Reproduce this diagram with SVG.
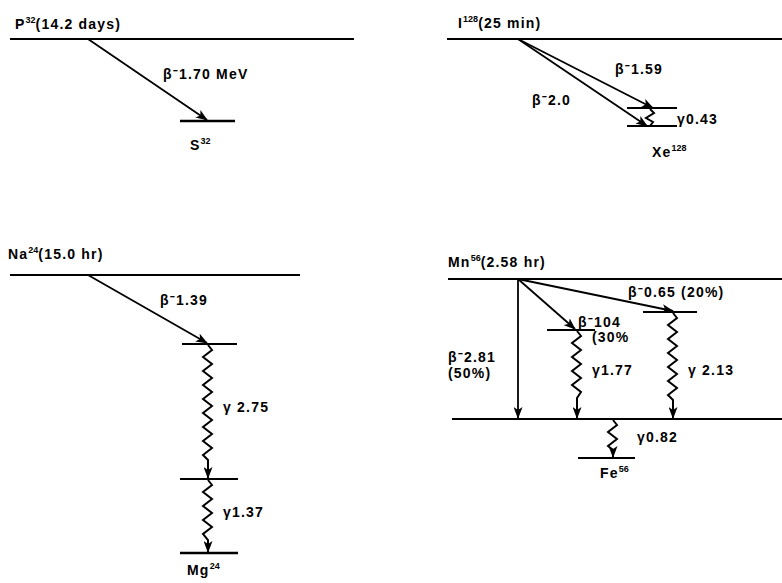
<svg xmlns="http://www.w3.org/2000/svg" width="782" height="583" viewBox="0 0 782 583">
<defs>
<style>
.lvl{stroke:#000;stroke-width:2.2;fill:none}
.arr{stroke:#000;stroke-width:1.8;fill:none;marker-end:url(#ah)}
.sq{stroke:#000;stroke-width:2;fill:none;stroke-linejoin:miter}
.t{font-family:"Liberation Sans",Arial,sans-serif;font-weight:bold;font-size:14px;letter-spacing:1.2px;fill:#000}
.sup{font-size:9px;letter-spacing:0}
</style>
<marker id="ah" markerWidth="12" markerHeight="9" refX="11" refY="4.5" orient="auto" markerUnits="userSpaceOnUse">
<path d="M0,0 L12,4.5 L0,9 L3,4.5 Z" fill="#000"/>
</marker>
</defs>
<rect width="782" height="583" fill="#fff"/>

<g id="p32">
<line class="lvl" x1="10" y1="39" x2="354" y2="39"/>
<line class="lvl" x1="180" y1="121" x2="235" y2="121" style="stroke-width:2.6"/>
<text class="t" x="15" y="29">P<tspan class="sup" dy="-6">32</tspan><tspan dy="6">(14.2 days)</tspan></text>
<text class="t" x="163" y="79">β⁻1.70 MeV</text>
<text class="t" x="190" y="150">S<tspan class="sup" dy="-6">32</tspan></text>
</g>

<g id="i128">
<line class="lvl" x1="447" y1="39" x2="782" y2="39"/>
<line class="lvl" x1="627" y1="108" x2="677" y2="108"/>
<line class="lvl" x1="627" y1="126" x2="677" y2="126"/>
<text class="t" x="458" y="28">I<tspan class="sup" dy="-6">128</tspan><tspan dy="6">(25 min)</tspan></text>
<text class="t" x="615" y="74">β⁻1.59</text>
<text class="t" x="532" y="105">β⁻2.0</text>
<text class="t" x="677" y="124">γ0.43</text>
<text class="t" x="652" y="157">Xe<tspan class="sup" dy="-6">128</tspan></text>
</g>

<g id="na24">
<line class="lvl" x1="10" y1="275" x2="300" y2="275"/>
<line class="lvl" x1="182" y1="344" x2="237" y2="344"/>
<line class="lvl" x1="180" y1="479" x2="238" y2="479"/>
<line class="lvl" x1="180" y1="553" x2="238" y2="553" style="stroke-width:2.6"/>
<text class="t" x="8" y="259">Na<tspan class="sup" dy="-6">24</tspan><tspan dy="6">(15.0 hr)</tspan></text>
<text class="t" x="160" y="305">β⁻1.39</text>
<text class="t" x="223" y="412">γ 2.75</text>
<text class="t" x="223" y="517">γ1.37</text>
<text class="t" x="187" y="575">Mg<tspan class="sup" dy="-6">24</tspan></text>
</g>

<g id="mn56">
<line class="lvl" x1="448" y1="279" x2="782" y2="279"/>
<line class="lvl" x1="547" y1="330" x2="595" y2="330"/>
<line class="lvl" x1="643" y1="312" x2="697" y2="312"/>
<line class="lvl" x1="452" y1="419" x2="782" y2="419"/>
<line class="lvl" x1="578" y1="458" x2="635" y2="458"/>
<text class="t" x="448" y="267">Mn<tspan class="sup" dy="-6">56</tspan><tspan dy="6">(2.58 hr)</tspan></text>
<text class="t" x="628" y="297">β⁻0.65 (20%)</text>
<text class="t" x="578" y="327">β⁻104</text>
<text class="t" x="592" y="342">(30%</text>
<text class="t" x="448" y="362">β⁻2.81</text>
<text class="t" x="448" y="378">(50%)</text>
<text class="t" x="592" y="375">γ1.77</text>
<text class="t" x="688" y="375">γ 2.13</text>
<text class="t" x="637" y="442">γ0.82</text>
<text class="t" x="600" y="478">Fe<tspan class="sup" dy="-6">56</tspan></text>
</g>

<g id="connectors">
<line class="arr" x1="88" y1="39" x2="207" y2="120"/>
<line class="arr" x1="518" y1="39" x2="653" y2="108"/>
<line class="arr" x1="518" y1="39" x2="647" y2="126"/>
<path class="sq" d="M650,109 L654,113 L646,118 L653,122 L650,126"/>
<line class="arr" x1="88" y1="275" x2="207" y2="343"/>
<path class="sq" style="marker-end:url(#ah)" d="M208,345 L212,350 L203,357 L212,364 L203,371 L212,378 L203,385 L212,392 L203,399 L212,406 L203,413 L212,420 L203,427 L212,434 L203,441 L212,448 L203,455 L208,460 L208,478"/>
<path class="sq" style="marker-end:url(#ah)" d="M208,480 L212,485 L203,492 L212,499 L203,506 L212,513 L203,520 L212,527 L203,534 L208,540 L208,552"/>
<line class="arr" x1="518" y1="279" x2="518" y2="418"/>
<line class="arr" x1="518" y1="279" x2="575" y2="329"/>
<line class="arr" x1="518" y1="279" x2="673" y2="311"/>
<path class="sq" style="marker-end:url(#ah)" d="M577,331 L581,336 L572,343 L581,350 L572,357 L581,364 L572,371 L581,378 L572,385 L581,392 L577,398 L577,418"/>
<path class="sq" style="marker-end:url(#ah)" d="M673,313 L677,318 L668,325 L677,332 L668,339 L677,346 L668,353 L677,360 L668,367 L677,374 L668,381 L677,388 L668,395 L673,400 L673,418"/>
<path class="sq" style="marker-end:url(#ah)" d="M613,420 L617,425 L608,432 L617,439 L608,446 L613,450 L613,457"/>
</g>
</svg>
